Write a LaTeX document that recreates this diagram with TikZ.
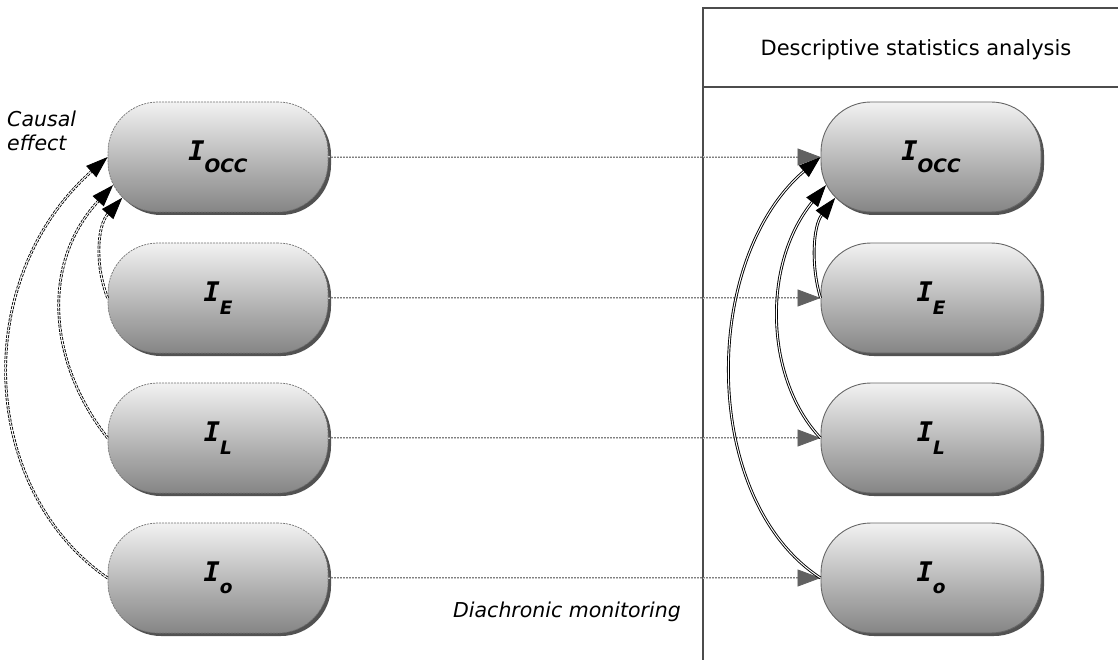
\documentclass[tikz,border=0pt]{standalone}
\usepackage{fontspec}
\setmainfont{DejaVu Sans}
\newfontfamily\ifont{DejaVu Sans Mono}
\usetikzlibrary{arrows.meta,shadows,calc}
\newcommand\ilab[1]{{\ifont\fontsize{27}{27}\selectfont\bfseries\itshape I}\raisebox{-12.5pt}{\fontsize{18.5}{18.5}\selectfont\bfseries\itshape #1}}
\begin{document}
\begin{tikzpicture}[x=1pt,y=-1pt,
  box/.style={rectangle, rounded corners=50pt, minimum width=220pt, minimum height=110pt, inner sep=0pt,
    top color=black!5, bottom color=black!48,
    drop shadow={shadow xshift=3pt, shadow yshift=-3pt, fill=black!75, opacity=0.9}},
  lbox/.style={box, draw=black!55, dash pattern=on 2pt off 1pt, line width=0.7pt},
  rbox/.style={box, draw=black!60, line width=0.9pt},
  mon/.style={draw=black!50, dash pattern=on 2pt off 1pt, line width=0.8pt, double=black!22, double distance=1pt,
    -{Triangle[length=23pt,width=17pt,color=black!62]}},
  cause/.style={draw=black, dash pattern=on 3pt off 1.2pt, line width=0.85pt, double=white, double distance=1pt,
    -{Triangle[length=22pt,width=15pt,color=black]}},
  effect/.style={draw=black, line width=0.9pt, double=white, double distance=1pt,
    -{Triangle[length=22pt,width=15pt,color=black]}},
  frame/.style={draw=black!70, line width=1.1pt},
  txt/.style={font=\fontsize{20.5}{24}\selectfont}
]
\useasboundingbox[fill=white] (0,0) rectangle (1118,660);

% frame
\draw[frame] (703,660) -- (703,8) -- (1118,8);
\draw[frame] (703,87) -- (1118,87);
\node[txt, font=\fontsize{21}{24}\selectfont] (title) at (916,50) {Descriptive statistics analysis};

% nodes
\node[lbox] (lOCC) at (218,157) {\ilab{OCC}};
\node[lbox] (lE) at (218,298) {\ilab{E}};
\node[lbox] (lL) at (218,438) {\ilab{L}};
\node[lbox] (lO) at (218,578) {\ilab{o}};
\node[rbox] (rOCC) at (931,157) {\ilab{OCC}};
\node[rbox] (rE) at (931,298) {\ilab{E}};
\node[rbox] (rL) at (931,438) {\ilab{L}};
\node[rbox] (rO) at (931,578) {\ilab{o}};

% texts
\node[txt, font=\fontsize{20.5}{24}\selectfont\itshape, align=left, anchor=north west, inner sep=0pt] (causal) at (7,111) {Causal\\effect};
\node[txt, font=\fontsize{20.5}{24}\selectfont\itshape] (diach) at (567,612) {Diachronic monitoring};

% monitoring arrows
\draw[mon] (lOCC.east) -- (rOCC.west);
\draw[mon] (lE.east) -- (rE.west);
\draw[mon] (lL.east) -- (rL.west);
\draw[mon] (lO.east) -- (rO.west);

% arrow target points on the rounded corners
\coordinate (lc) at ($(lOCC.south west)+(50,-50)$);
\coordinate (lt2) at ($(lc)+(153:50)$);
\coordinate (lt3) at ($(lc)+(135:50)$);
\coordinate (rc) at ($(rOCC.south west)+(50,-50)$);
\coordinate (rt2) at ($(rc)+(153:50)$);
\coordinate (rt3) at ($(rc)+(135:50)$);

% causal effects (left)
\draw[cause] (lE.west) .. controls +(-13,-33) and +(-25,28) .. (lt3);
\draw[cause] (lL.west) .. controls +(-58,-73) and +(-74,80) .. (lt2);
\draw[cause] (lO.west) .. controls +(-128,-88) and +(-138,123) .. (lOCC.west);

% effects (right)
\draw[effect] (rE.west) .. controls +(-10,-33) and +(-22,28) .. (rt3);
\draw[effect] (rL.west) .. controls +(-55,-58) and +(-65,80) .. (rt2);
\draw[effect] (rO.west) .. controls +(-120,-78) and +(-120,103) .. (rOCC.west);
\end{tikzpicture}
\end{document}
